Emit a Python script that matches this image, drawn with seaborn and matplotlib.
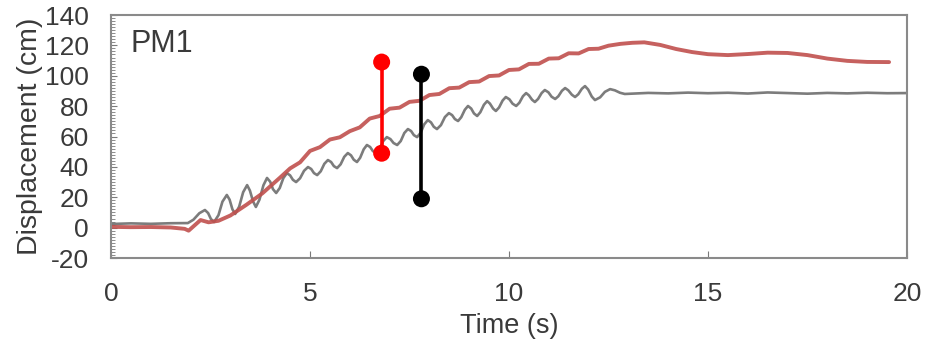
import numpy as np
import pandas as pd
import matplotlib
matplotlib.use('Agg')
import matplotlib.pyplot as plt
from matplotlib.ticker import MultipleLocator
import seaborn as sb

# DATA
# ====
# red (model) trace
red_t = [0.0, 0.5, 1.0, 1.5, 1.85, 1.95, 2.1, 2.25, 2.45, 2.7, 3.0, 3.4, 3.8,
         4.25, 4.5, 4.75, 5.0, 5.25, 5.5, 5.75, 6.0, 6.25, 6.5, 6.75, 7.0,
         7.25, 7.5, 7.75, 8.0, 8.25, 8.5, 8.75, 9.0, 9.25, 9.5, 9.75, 10.0,
         10.25, 10.5, 10.75, 11.0, 11.25, 11.5, 11.75, 12.0, 12.25, 12.5,
         12.8, 13.1, 13.4, 13.8, 14.2, 14.6, 15.0, 15.5, 16.0, 16.5, 17.0,
         17.5, 18.0, 18.5, 19.0, 19.55]
red_d = [0.5, 0.3, 0.4, 0.1, -0.8, -2.0, 1.5, 5.0, 3.5, 4.5, 8.0, 15.0, 22.5,
         33.0, 39.0, 43.0, 50.5, 53.0, 58.0, 59.5, 63.5, 66.0, 71.8, 73.5, 78.3,
         79.0, 82.8, 83.5, 87.3, 88.0, 91.8, 92.2, 95.8, 96.2, 99.8, 100.2, 103.8,
         104.2, 107.8, 107.9, 111.3, 111.5, 114.8, 114.7, 117.6, 117.8, 119.8,
         121.0, 121.7, 122.0, 120.3, 117.6, 115.6, 114.2, 113.6, 114.3, 115.2, 115.0,
         113.6, 111.3, 109.8, 109.1, 109.0]

grey_t = [0.0, 0.5, 1.0, 1.5, 1.93, 2.07, 2.22, 2.36, 2.44, 2.51, 2.59,
          2.70, 2.80, 2.91, 2.98, 3.05, 3.12, 3.22, 3.32, 3.42, 3.49, 3.57,
          3.64, 3.73, 3.83, 3.92, 4.00, 4.07, 4.15, 4.24, 4.33, 4.42, 4.50,
          4.57, 4.65, 4.75, 4.85, 4.95, 5.03, 5.10, 5.18, 5.27, 5.36, 5.45,
          5.53, 5.60, 5.68, 5.77, 5.86, 5.95, 6.03, 6.10, 6.18, 6.26, 6.35,
          6.43, 6.51, 6.58, 6.66, 6.75, 6.84, 6.93, 7.02, 7.10, 7.19, 7.28,
          7.37, 7.46, 7.54, 7.61, 7.69, 7.78, 7.87, 7.96, 8.04, 8.11, 8.19,
          8.29, 8.39, 8.49, 8.57, 8.64, 8.72, 8.80, 8.89, 8.97, 9.05, 9.12,
          9.20, 9.28, 9.37, 9.45, 9.52, 9.60, 9.67, 9.75, 9.84, 9.92, 10.01,
          10.09, 10.18, 10.26, 10.35, 10.43, 10.50, 10.58, 10.65, 10.73,
          10.82, 10.90, 10.99, 11.07, 11.16, 11.24, 11.33, 11.41, 11.49,
          11.58, 11.66, 11.74, 11.83, 11.91, 11.99, 12.08, 12.16, 12.29,
          12.41, 12.54, 12.66, 12.79, 12.91, 13.5, 14.0, 14.5, 15.0, 15.5,
          16.0, 16.5, 17.0, 17.5, 18.0, 18.5, 19.0, 19.5, 20.0]
grey_d = [2.4, 2.8, 2.5, 2.9, 3.0, 5.2, 9.5, 11.6, 9.6, 5.7, 3.7,
          8.2, 17.1, 21.5, 18.4, 12.1, 9.0, 13.8, 23.3, 28.0, 24.4, 17.2,
          13.6, 18.4, 27.9, 32.7, 30.2, 25.3, 22.8, 26.1, 32.6, 35.9, 34.4,
          31.5, 30.0, 32.5, 37.4, 39.9, 38.6, 35.9, 34.6, 37.1, 42.0, 44.5,
          43.2, 40.5, 39.2, 41.7, 46.6, 49.1, 47.6, 44.7, 43.2, 46.0, 51.6,
          54.4, 53.1, 50.4, 49.1, 51.7, 57.0, 59.6, 58.3, 55.7, 54.4, 57.0,
          62.3, 64.9, 63.6, 60.9, 59.6, 62.4, 68.0, 70.8, 69.3, 66.4, 64.9,
          67.5, 72.8, 75.4, 74.1, 71.5, 70.2, 72.7, 77.6, 80.1, 78.4, 75.2,
          73.5, 76.0, 80.9, 83.3, 81.7, 78.4, 76.8, 79.1, 83.7, 86.0, 84.5,
          81.6, 80.1, 82.2, 86.5, 88.6, 87.1, 84.2, 82.7, 84.7,
          88.6, 90.6, 89.1, 86.2, 84.7, 86.5, 90.1, 91.9, 90.4,
          87.5, 86.0, 87.8, 91.4, 93.2, 90.9, 86.3, 84.0, 85.8,
          89.4, 91.2, 90.4, 88.8, 88.0, 88.7, 88.4, 88.9, 88.5, 88.8,
          88.3, 89.0, 88.6, 88.2, 88.7, 88.4, 88.8, 88.5, 88.6]

# range bars (time, low, high)
bar_t = [6.8, 7.8]
bar_lo = [49, 19]
bar_hi = [109, 101]
bar_col = ['#ff0000', '#000000']

x_ticks = [0, 5, 10, 15, 20]
y_ticks = [-20, 0, 20, 40, 60, 80, 100, 120, 140]

# PLOT
# ====
sb.set_style('ticks')
plt.rcParams['font.family'] = ['Liberation Sans', 'DejaVu Sans']
plt.rcParams['axes.unicode_minus'] = False

red_df = pd.DataFrame({'Time': red_t, 'Disp': red_d})
grey_df = pd.DataFrame({'Time': grey_t, 'Disp': grey_d})

fig = plt.figure(figsize=(9.36, 3.41), dpi=100)
ax = fig.add_axes([0.1186, 0.2434, 0.8504, 0.7126])

sb.lineplot(data=grey_df, x='Time', y='Disp', ax=ax, color='#6e6e6e',
            lw=1.9, sort=False, alpha=0.9)
sb.lineplot(data=red_df, x='Time', y='Disp', ax=ax, color='#c0504d',
            lw=2.8, sort=False, alpha=0.9)

for t, lo, hi, c in zip(bar_t, bar_lo, bar_hi, bar_col):
    ax.plot([t, t], [lo, hi], color=c, lw=2.6, solid_capstyle='butt')
    sb.scatterplot(x=[t, t], y=[lo, hi], ax=ax, color=c, s=150,
                   edgecolor='none', zorder=5)

ax.set_xlim(0, 20)
ax.set_ylim(-20, 140)
ax.set_xticks(x_ticks)
ax.set_yticks(y_ticks)
ax.yaxis.set_minor_locator(MultipleLocator(2))
ax.tick_params(axis='both', which='both', direction='in', colors='#7a7a7a',
               labelcolor='#3a3a3a', labelsize=19)
ax.tick_params(axis='x', which='major', length=5, pad=17)
ax.tick_params(axis='y', which='major', length=4, pad=16)
ax.tick_params(axis='y', which='minor', length=3)
for s in ax.spines.values():
    s.set_color('#8a8a8a')
    s.set_linewidth(1.5)

ax.set_xlabel('Time (s)', fontsize=19.5, color='#3a3a3a', labelpad=5)
ax.set_ylabel('Displacement (cm)', fontsize=20.5, color='#3a3a3a', labelpad=1)
ax.text(0.025, 0.88, 'PM1', transform=ax.transAxes, fontsize=22,
        color='#3a3a3a', va='center')

fig.savefig('out.png', dpi=100)
